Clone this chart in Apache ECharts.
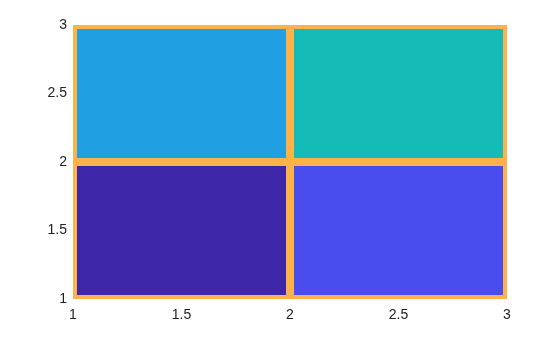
<!DOCTYPE html>
<html><head><meta charset="utf-8">
<script src="https://cdn.jsdelivr.net/npm/echarts@6/dist/echarts.min.js"></script>
<style>html,body{margin:0;padding:0;background:#fff}#c{width:560px;height:337px}</style>
</head><body><div id="c"></div>
<script>
const xEdges = [1, 2, 3];
const yEdges = [1, 2, 3];
// cells: [xIndex, yIndex, value]
const cellValues = [
  [0, 0, 0],
  [1, 0, 1],
  [0, 1, 2],
  [1, 1, 3]
];
const cellColors = ['#3E26A8', '#4A4DEE', '#20A0E3', '#15BCB7'];
const edgeColor = '#FDB24A';

const data = cellValues.map(c => [xEdges[c[0]], xEdges[c[0]+1], yEdges[c[1]], yEdges[c[1]+1], c[2]]);

const chart = echarts.init(document.getElementById('c'), null, {renderer: 'canvas'});
chart.setOption({
  animation: false,
  grid: {left: 73, right: 53, top: 25, bottom: 38},
  xAxis: {
    type: 'value', min: 1, max: 3, interval: 0.5,
    axisLine: {show: false}, axisTick: {show: false}, splitLine: {show: false},
    axisLabel: {color: '#222', fontSize: 14, fontFamily: 'Liberation Sans', margin: 9}
  },
  yAxis: {
    type: 'value', min: 1, max: 3, interval: 0.5,
    axisLine: {show: false}, axisTick: {show: false}, splitLine: {show: false},
    axisLabel: {color: '#222', fontSize: 14, fontFamily: 'Liberation Sans', margin: 6}
  },
  series: [{
    type: 'custom',
    clip: true,
    data: data,
    encode: {x: [0, 1], y: [2, 3]},
    renderItem: function (params, api) {
      const p0 = api.coord([api.value(0), api.value(2)]);
      const p1 = api.coord([api.value(1), api.value(3)]);
      const v = api.value(4);
      return {
        type: 'rect',
        shape: {x: p0[0], y: p1[1], width: p1[0] - p0[0], height: p0[1] - p1[1]},
        style: {fill: cellColors[v], stroke: edgeColor, lineWidth: 8}
      };
    }
  }]
});
</script></body></html>
